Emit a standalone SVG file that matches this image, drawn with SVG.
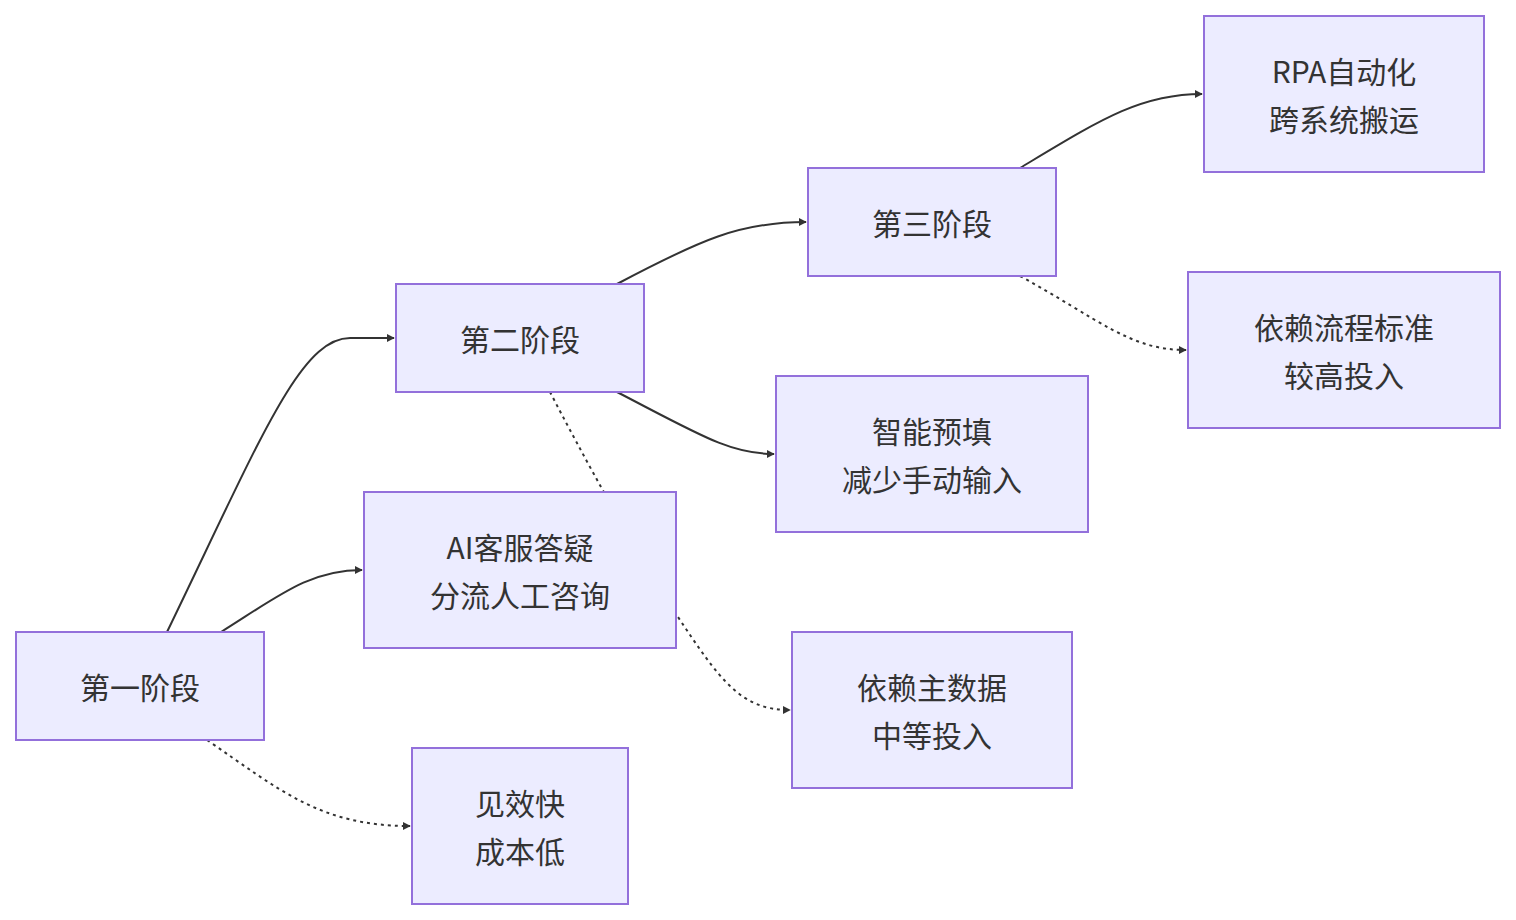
<svg xmlns="http://www.w3.org/2000/svg" width="1516" height="920" viewBox="0 0 1516 920">
<style>
.n rect{fill:#ECECFF;stroke:#9370DB;stroke-width:2}
.n text{font-family:"Noto Sans CJK SC","Noto Sans",sans-serif;font-size:30px;fill:#333;text-anchor:middle;dominant-baseline:central}
.e path{fill:none;stroke:#333;stroke-width:2}
.e .d{stroke-dasharray:3,4}
</style>
<defs><marker id="a" viewBox="0 0 10 10" refX="9" refY="5" markerWidth="8" markerHeight="8" markerUnits="userSpaceOnUse" orient="auto"><path d="M0,0L10,5L0,10z" fill="#333"/></marker></defs>
<rect width="1516" height="920" fill="#fff"/>
<g class="e">
<path d="M167,632 C260,440 300,338 350,338 L394,338" marker-end="url(#a)"/>
<path d="M221,632 C280,595 310,570 362,570" marker-end="url(#a)"/>
<path class="d" d="M207,740 C280,790 320,826 410,826" marker-end="url(#a)"/>
<path d="M617,284 C700,240 740,222 806,222" marker-end="url(#a)"/>
<path d="M617,392 C700,435 730,454 774,454" marker-end="url(#a)"/>
<path class="d" d="M550,392 C580,450 640,560 676,614 C720,680 740,710 790,710" marker-end="url(#a)"/>
<path d="M1020,168 C1100,120 1140,94 1202,94" marker-end="url(#a)"/>
<path class="d" d="M1020,276 C1100,320 1130,350 1186,350" marker-end="url(#a)"/>
</g>
<g id="n1" class="n"><rect x="16" y="632" width="248" height="108"/><text x="140" y="686">第一阶段</text></g>
<g id="n2" class="n"><rect x="412" y="748" width="216" height="156"/><text x="520" y="802">见效快</text><text x="520" y="850">成本低</text></g>
<g id="n3" class="n"><rect x="364" y="492" width="312" height="156"/><text x="520" y="546">AI客服答疑</text><text x="520" y="594">分流人工咨询</text></g>
<g id="n4" class="n"><rect x="396" y="284" width="248" height="108"/><text x="520" y="338">第二阶段</text></g>
<g id="n5" class="n"><rect x="776" y="376" width="312" height="156"/><text x="932" y="430">智能预填</text><text x="932" y="478">减少手动输入</text></g>
<g id="n6" class="n"><rect x="792" y="632" width="280" height="156"/><text x="932" y="686">依赖主数据</text><text x="932" y="734">中等投入</text></g>
<g id="n7" class="n"><rect x="808" y="168" width="248" height="108"/><text x="932" y="222">第三阶段</text></g>
<g id="n8" class="n"><rect x="1204" y="16" width="280" height="156"/><text x="1344" y="70">RPA自动化</text><text x="1344" y="118">跨系统搬运</text></g>
<g id="n9" class="n"><rect x="1188" y="272" width="312" height="156"/><text x="1344" y="326">依赖流程标准</text><text x="1344" y="374">较高投入</text></g>
</svg>
